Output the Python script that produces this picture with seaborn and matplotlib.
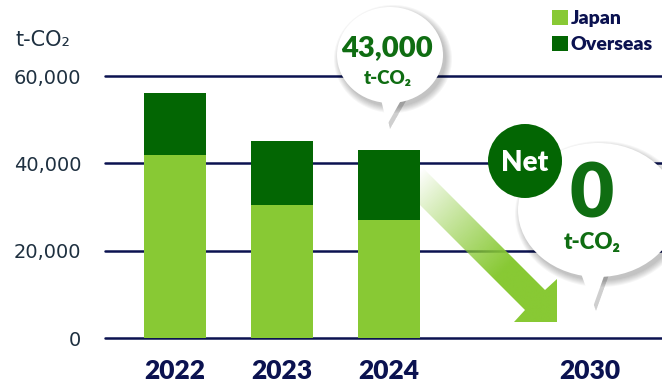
import numpy as np
import pandas as pd
import matplotlib
matplotlib.use("Agg")
import matplotlib.pyplot as plt
import seaborn as sns
from matplotlib.patches import Ellipse, Polygon, Circle, Patch

# ---- data ----
years = ["2022", "2023", "2024"]
japan = [42000, 30500, 27000]
overseas = [14000, 14500, 16000]
tick_labels = ["2022", "2023", "2024", "2030"]
yticks = [0, 20000, 40000, 60000]
ytick_labels = ["0", "20,000", "40,000", "60,000"]
series_names = ["Japan", "Overseas"]
bubble_value = "43,000"
target_value = "0"
unit = "t-CO\u2082"

LIGHT = "#88c934"
DARK = "#036603"
NAVY = "#0b1250"
TXT = "#1e3040"
GTXT = "#0f6d12"
BOLD = "heavy"
LATO = ["Lato", "DejaVu Sans"]

sns.set_theme(style="white")
plt.rcParams["font.family"] = ["DejaVu Sans"]

df = pd.DataFrame({"year": years, "Japan": japan, "Overseas": overseas})
df["Total"] = df["Japan"] + df["Overseas"]

W, H = 662, 386
fig = plt.figure(figsize=(W / 100, H / 100), dpi=100)
ax = fig.add_axes([105 / W, 1 - 338 / H, (W - 105) / W, (338 - 76) / H])

sns.barplot(data=df, x="year", y="Total", order=years, color=DARK, width=0.58,
            saturation=1, errorbar=None, ax=ax, zorder=3)
sns.barplot(data=df, x="year", y="Japan", order=years, color=LIGHT, width=0.58,
            saturation=1, errorbar=None, ax=ax, zorder=3)
for p in ax.patches:
    p.set_edgecolor("none")

ax.set_ylim(0, 60000)
ax.set_xlim(-0.654, 4.55)
ax.set_yticks(yticks)
ax.set_yticklabels(ytick_labels, color=TXT, fontsize=14)
ax.set_xticks([0, 1, 2, 3.88])
ax.set_xticklabels(tick_labels, color=NAVY, fontsize=19, fontweight=BOLD, family=LATO)
ax.tick_params(axis="both", length=0)
ax.tick_params(axis="y", pad=17)
ax.tick_params(axis="x", pad=15)
ax.set_xlabel("")
ax.set_ylabel("")
for s in ax.spines.values():
    s.set_visible(False)
ax.set_axisbelow(True)
ax.yaxis.grid(True, color=NAVY, linewidth=1.8)
for gl in ax.get_ygridlines():
    gl.set_clip_on(False)
ax.patch.set_alpha(0)

# unit label
fig.text(15 / W, 1 - 40 / H, unit, color=TXT, fontsize=15, va="center", ha="left")

# legend
handles = [Patch(facecolor=LIGHT, edgecolor="none"), Patch(facecolor=DARK, edgecolor="none")]
leg = ax.legend(handles, series_names, loc="upper left",
                bbox_to_anchor=(552 / W, 1 - 10 / H), bbox_transform=fig.transFigure,
                frameon=False, handlelength=0.8, handleheight=0.8, handletextpad=0.15,
                labelspacing=0.45, borderpad=0, borderaxespad=0,
                prop={"family": LATO, "weight": BOLD, "size": 14})
for t in leg.get_texts():
    t.set_color(NAVY)

# ---- overlay in pixel coordinates ----
ov = fig.add_axes([0, 0, 1, 1])
ov.set_xlim(0, W)
ov.set_ylim(H, 0)
ov.axis("off")
ov.set_zorder(5)
ov.patch.set_alpha(0)

# gradient arrow
poly = [(420, 165), (545, 290), (557, 279), (557, 322), (514, 322), (525, 310), (420, 205)]
clip = Polygon(poly, closed=True, facecolor="none", edgecolor="none")
ov.add_patch(clip)
x0, x1, y0, y1 = 420, 557, 160, 322
xs = np.linspace(x0, x1, 200)
ys = np.linspace(y0, y1, 200)
XX, YY = np.meshgrid(xs, ys)
t = ((XX - 420) + (YY - 165)) / ((557 - 420) + (322 - 165))
alpha = np.clip((t - 0.02) / 0.62, 0, 1) ** 0.9
rgb = matplotlib.colors.to_rgb(LIGHT)
img = np.zeros((200, 200, 4))
img[..., 0], img[..., 1], img[..., 2] = rgb
img[..., 3] = alpha
im = ov.imshow(img, extent=(x0, x1, y1, y0), aspect="auto", zorder=2, interpolation="bilinear")
im.set_clip_path(clip)
ov.set_xlim(0, W)
ov.set_ylim(H, 0)


def balloon(cx, cy, w, h, tail, z):
    # soft shadow
    for i in range(7):
        a = 0.035
        ov.add_patch(Ellipse((cx + 3, cy + 4), w + 2 * i, h + 2 * i, facecolor="black",
                             edgecolor="none", alpha=a, zorder=z))
        tl = [(px + 3, py + 4) for px, py in tail]
        ov.add_patch(Polygon(tl, closed=True, facecolor="black", edgecolor="none",
                             alpha=a * 0.8, zorder=z))
    ov.add_patch(Ellipse((cx, cy), w, h, facecolor="white", edgecolor="none", zorder=z + 1))
    ov.add_patch(Polygon(tail, closed=True, facecolor="white", edgecolor="none", zorder=z + 1))


# 43,000 balloon
balloon(390, 55, 106, 96, [(380, 95), (404, 95), (387, 125)], 3)
ov.text(387, 48, bubble_value, color=GTXT, fontsize=21, fontweight=BOLD, ha="center",
        va="center", family=LATO, zorder=6)
ov.text(388, 78, unit, color=GTXT, fontsize=13.5, fontweight=BOLD, ha="center",
        va="center", family=LATO, zorder=6)

# net-zero balloon
balloon(598, 210, 160, 134, [(578, 265), (608, 265), (593, 307)], 7)
ov.text(592, 196, target_value, color=GTXT, fontsize=55, fontweight=BOLD, ha="center",
        va="center", family=LATO, zorder=10)
ov.text(592, 242, unit, color=GTXT, fontsize=16, fontweight=BOLD, ha="center",
        va="center", family=LATO, zorder=10)

# Net circle
ov.add_patch(Circle((525, 161), 37, facecolor=DARK, edgecolor="none", zorder=11))
ov.text(525, 163, "Net", color="white", fontsize=20, fontweight=BOLD, ha="center",
        va="center", family=LATO, zorder=12)

fig.savefig("out.png", dpi=100)
